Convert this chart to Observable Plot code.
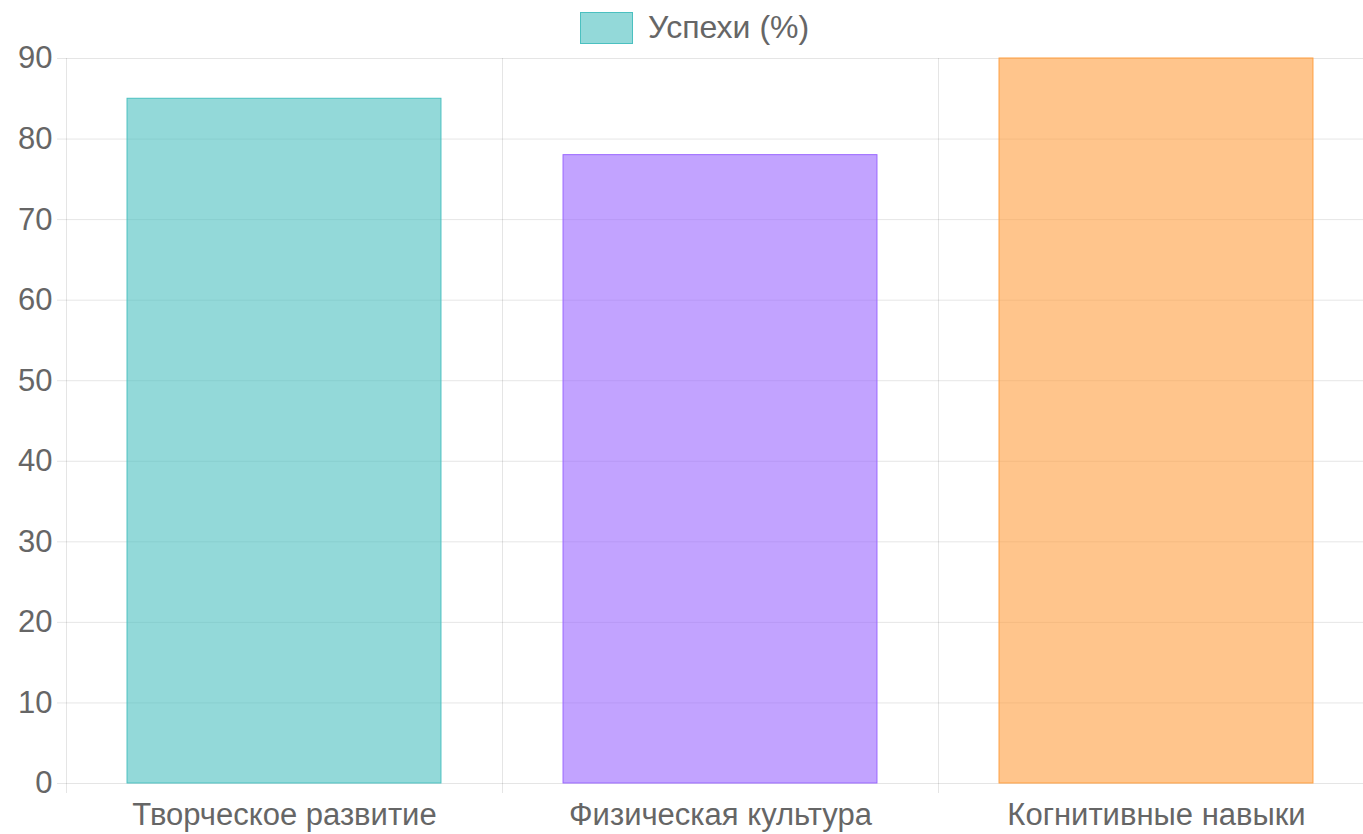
<!DOCTYPE html>
<html>
<head>
<meta charset="utf-8">
<script src="https://cdn.jsdelivr.net/npm/d3@7"></script>
<script src="https://cdn.jsdelivr.net/npm/@observablehq/plot@0.6"></script>
<style>
  html, body { margin: 0; padding: 0; background: #fff; }
  #wrap { position: relative; width: 1363px; height: 834px; font-family: "Liberation Sans", Arial, sans-serif; }
  #legend { position: absolute; top: 9px; left: 580px; display: flex; align-items: center; gap: 15px; color: #666; font-size: 32px; z-index: 2; white-space: nowrap; }
  #legend .sw { width: 51px; height: 30px; border: 1px solid; box-sizing: content-box; }
  #chart svg { display: block; }
</style>
</head>
<body>
<div id="wrap">
  <div id="legend"></div>
  <div id="chart"></div>
</div>
<script>
const categories = ["Творческое развитие", "Физическая культура", "Когнитивные навыки"];
const values = [85, 78, 90];
const fills = ["rgba(75,192,192,0.6)", "rgba(153,102,255,0.6)", "rgba(255,159,64,0.6)"];
const strokes = ["rgb(75,192,192)", "rgb(153,102,255)", "rgb(255,159,64)"];
const seriesLabel = "Успехи (%)";
const yTicks = [0, 10, 20, 30, 40, 50, 60, 70, 80, 90];

const data = categories.map((c, i) => ({category: c, value: values[i], fill: fills[i], stroke: strokes[i]}));

const W = 1363, H = 834;
const left = 66, xEnd = 1374;
const step = (xEnd - left) / categories.length;
const inset = step * 0.14;

const legend = document.getElementById("legend");
legend.innerHTML = `<div class="sw" style="background:${fills[0]};border-color:${strokes[0]}"></div><span>${seriesLabel}</span>`;

const grid = "rgba(0,0,0,0.1)";
const plot = Plot.plot({
  width: W,
  height: H,
  marginLeft: left,
  marginRight: 0,
  marginTop: 58,
  marginBottom: 51,
  style: {fontFamily: '"Liberation Sans", Arial, sans-serif', fontSize: "31px", color: "#666", overflow: "visible"},
  x: {domain: categories, range: [left, xEnd], padding: 0},
  y: {domain: [0, 90]},
  marks: [
    Plot.gridY(yTicks, {stroke: grid, strokeOpacity: 1}),
    Plot.ruleX(categories, {x: d => d, dx: -step / 2, y1: 90, y2: 0, stroke: grid, insetBottom: -10}),
    Plot.axisY(yTicks, {tickSize: 9, tickPadding: 5, stroke: grid, strokeOpacity: 1, fill: "#666", label: null, fontSize: 31}),
    Plot.barY(data, {x: "category", y: "value", fill: "fill", stroke: "stroke", strokeWidth: 1, insetLeft: inset, insetRight: inset}),
    Plot.axisX({tickSize: 0, tickPadding: 19, fill: "#666", label: null, fontSize: 31})
  ]
});
document.getElementById("chart").appendChild(plot);
</script>
</body>
</html>
